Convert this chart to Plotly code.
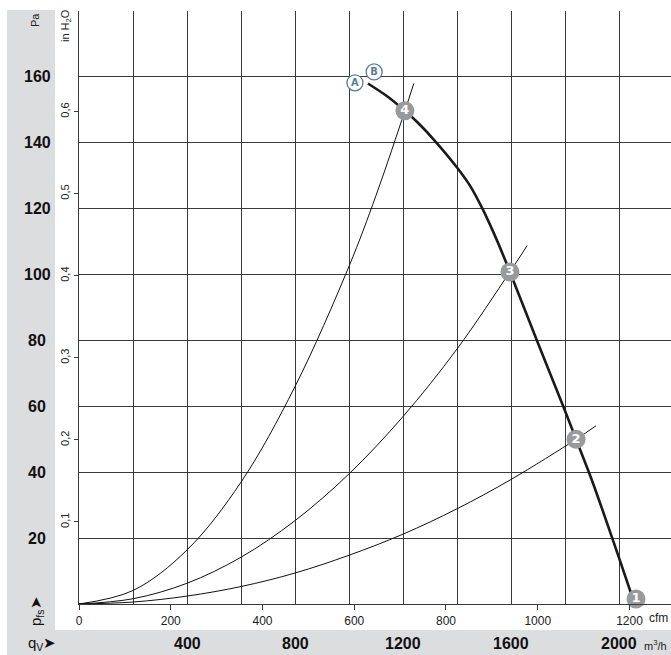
import plotly.graph_objects as go

# ---------------- data ----------------
# fan curve: volume flow (m3/h) and static pressure (Pa)
fan_q = [1070, 1140, 1207, 1260, 1318, 1400, 1448, 1496, 1550, 1596, 1696, 1796, 1841, 1900, 1996, 2058]
fan_p = [158.0, 154.2, 149.7, 145.7, 140.6, 132.5, 127.0, 119.7, 110.0, 100.8, 80.0, 59.5, 50.0, 37.5, 15.0, 0.0]

# system (resistance) curves through operating points 4, 3, 2
sys4_q = [0, 200, 400, 600, 800, 1000, 1100, 1207, 1240]
sys4_p = [0, 4.1, 16.4, 37.0, 66.0, 102.5, 124.0, 149.7, 158.0]
sys3_q = [0, 200, 400, 600, 800, 1000, 1200, 1400, 1596, 1660]
sys3_p = [0, 1.6, 6.3, 14.2, 25.3, 39.5, 56.9, 77.4, 100.8, 108.8]
sys2_q = [0, 200, 400, 600, 800, 1000, 1200, 1400, 1600, 1841, 1915]
sys2_p = [0, 0.6, 2.4, 5.3, 9.4, 14.8, 21.2, 28.9, 37.8, 50.0, 54.1]

# operating points
op_labels = ["1", "2", "3", "4"]
op_q = [2063, 1841, 1596, 1207]
op_p = [1.5, 50.0, 100.8, 149.7]

# curve labels A / B
ab_labels = ["A", "B"]
ab_q = [1022, 1093]
ab_p = [158.2, 161.5]

# tick labels
pa_ticks = [20, 40, 60, 80, 100, 120, 140, 160]
m3h_ticks = [400, 800, 1200, 1600, 2000]
cfm_ticks = [0, 200, 400, 600, 800, 1000, 1200]
inh2o_ticks = [0.1, 0.2, 0.3, 0.4, 0.5, 0.6]

CFM_TO_M3H = 1.699
INH2O_TO_PA = 249.09

# ---------------- layout geometry ----------------
W, H = 671, 655
ML, MR, MT, MB = 79, 0, 11, 51
PW, PH = W - ML - MR, H - MT - MB
XMAX = 200 * PW / 54.0
YMAX = 180


def px(xpix):
    return (xpix - ML) / PW


def py(ypix):
    return (H - MB - ypix) / PH


FONT = "Liberation Sans, Arial, sans-serif"
GRID = "#3a3a3a"
BAND = "#dcdddf"
BLUE = "#5b7b9c"

fig = go.Figure()

for q, p in [(sys4_q, sys4_p), (sys3_q, sys3_p), (sys2_q, sys2_p)]:
    fig.add_trace(go.Scatter(x=q, y=p, mode="lines", line=dict(color="#111", width=1, shape="spline"),
                             hoverinfo="skip", showlegend=False))

fig.add_trace(go.Scatter(x=fan_q, y=fan_p, mode="lines",
                         line=dict(color="#1a1a1a", width=2.6, shape="spline", smoothing=0.8),
                         showlegend=False))

fig.add_trace(go.Scatter(x=op_q, y=op_p, mode="markers+text", text=op_labels,
                         textposition="middle center",
                         marker=dict(size=19, color="#999a9c", line=dict(width=0)),
                         textfont=dict(color="white", size=13, family="DejaVu Sans, sans-serif", weight="bold"),
                         showlegend=False, cliponaxis=False))

fig.add_trace(go.Scatter(x=ab_q, y=ab_p, mode="markers+text", text=ab_labels,
                         textposition="middle center",
                         marker=dict(size=16, color="white", line=dict(width=1.3, color=BLUE)),
                         textfont=dict(color=BLUE, size=11, family="DejaVu Sans Condensed, sans-serif", weight="bold"),
                         showlegend=False, cliponaxis=False))

shapes = [
    dict(type="rect", xref="paper", yref="paper", x0=px(7), x1=px(55), y0=py(655), y1=py(10),
         fillcolor=BAND, line=dict(width=0), layer="below"),
    dict(type="rect", xref="paper", yref="paper", x0=px(7), x1=1.0, y0=py(655), y1=py(630),
         fillcolor=BAND, line=dict(width=0), layer="below"),
]


def ann(x, y, text, size, xref="paper", yref="paper", angle=0, bold=False, color="#222"):
    return dict(x=x, y=y, xref=xref, yref=yref, text=text, showarrow=False, textangle=angle,
                xanchor="center", yanchor="middle",
                font=dict(family=FONT, size=size, color=color, weight="bold" if bold else "normal"))


annotations = []
for v in pa_ticks:
    annotations.append(ann(px(37), v, str(v), 16, yref="y", bold=True, color="#111"))
for v in m3h_ticks:
    annotations.append(ann(v, py(643), str(v), 16, xref="x", bold=True, color="#111"))

annotations += [
    ann(px(35), py(20), "Pa", 11, angle=-90),
    ann(px(66), py(26), "in H<sub>2</sub>O", 11, angle=-90),
    ann(px(36), py(611), "p<sub>fs</sub>➤", 15, angle=-90, color="#111"),
    ann(px(42), py(643), "q<sub>V</sub>➤", 15, color="#111"),
    ann(px(658), py(618), "cfm", 12),
    ann(px(655), py(645), "m<sup>3</sup>/h", 11),
]

fig.update_layout(
    width=W, height=H,
    margin=dict(l=ML, r=MR, t=MT, b=MB, pad=0, autoexpand=False),
    paper_bgcolor="white", plot_bgcolor="white",
    shapes=shapes, annotations=annotations,
    xaxis=dict(range=[0, XMAX], showgrid=False, zeroline=False, automargin=False,
               showline=True, linecolor=GRID, linewidth=1.3,
               tickvals=[c * CFM_TO_M3H for c in cfm_ticks], ticktext=[str(c) for c in cfm_ticks],
               ticks="outside", ticklen=5, tickcolor=GRID, tickwidth=1,
               tickfont=dict(family=FONT, size=12, color="#222"),
               minor=dict(dtick=200, tick0=0, showgrid=True, gridcolor=GRID, gridwidth=1, ticks="")),
    yaxis=dict(range=[0, YMAX], showgrid=False, zeroline=False, automargin=False,
               showline=True, linecolor=GRID, linewidth=1.3, mirror=True,
               tickvals=[v * INH2O_TO_PA for v in inh2o_ticks],
               ticktext=[("%.1f" % v).replace(".", ",") for v in inh2o_ticks],
               tickangle=-90, ticks="outside", ticklen=4, tickcolor=GRID, tickwidth=1,
               tickfont=dict(family=FONT, size=11, color="#222"),
               minor=dict(dtick=20, tick0=0, showgrid=True, gridcolor=GRID, gridwidth=1, ticks="")),
)

fig.write_html("out.html", config={"displayModeBar": False},
               post_script="document.body.style.margin='0';document.body.style.padding='0';")
